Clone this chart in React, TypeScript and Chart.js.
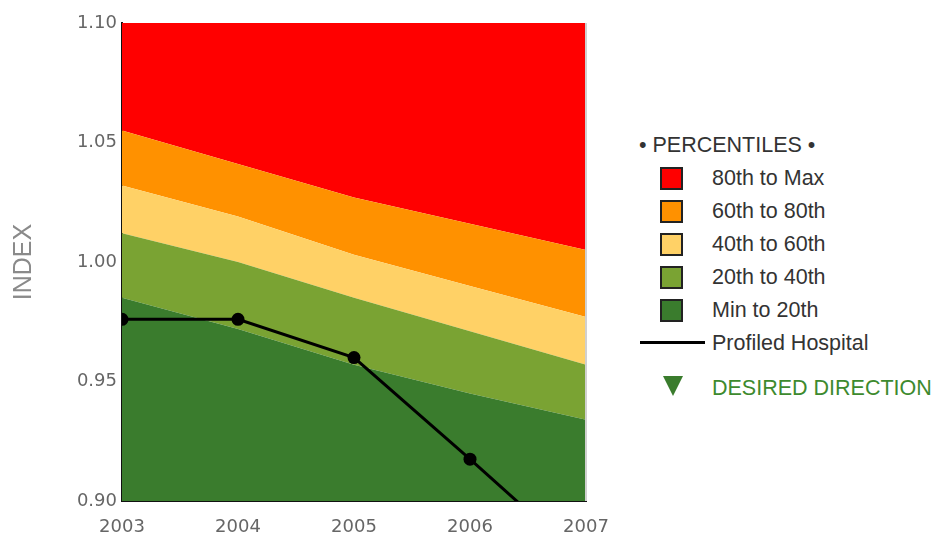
import React, { useEffect, useRef } from "react";
import { Chart, registerables } from "chart.js";

Chart.register(...registerables);

const years = ["2003", "2004", "2005", "2006", "2007"];
const p20 = [0.985, 0.972, 0.957, 0.945, 0.934];
const p40 = [1.012, 1.0, 0.985, 0.971, 0.957];
const p60 = [1.032, 1.019, 1.003, 0.99, 0.977];
const p80 = [1.055, 1.041, 1.027, 1.016, 1.005];
const pMax = [1.1, 1.1, 1.1, 1.1, 1.1];
const hospital = [0.976, 0.976, 0.96, 0.9175, 0.874];

const yMin = 0.9;
const yMax = 1.1;
const yStep = 0.05;

const COLORS = {
  red: "#ff0000",
  orange: "#ff9100",
  yellow: "#ffd166",
  lightGreen: "#7aa333",
  darkGreen: "#3a7c2d",
};

const legendItems = [
  { label: "80th to Max", color: COLORS.red },
  { label: "60th to 80th", color: COLORS.orange },
  { label: "40th to 60th", color: COLORS.yellow },
  { label: "20th to 40th", color: COLORS.lightGreen },
  { label: "Min to 20th", color: COLORS.darkGreen },
];

const FONT = "'Liberation Sans', Arial, Helvetica, sans-serif";
const TICK_FONT = "'DejaVu Sans', Verdana, sans-serif";

const rightEdgePlugin = {
  id: "rightEdge",
  afterDraw(chart: any) {
    const { ctx, chartArea } = chart;
    ctx.save();
    ctx.strokeStyle = "#d0d0d0";
    ctx.lineWidth = 2;
    ctx.beginPath();
    ctx.moveTo(chartArea.right, chartArea.top);
    ctx.lineTo(chartArea.right, chartArea.bottom);
    ctx.stroke();
    ctx.restore();
  },
};

function area(data: number[], color: string, fill: any) {
  return {
    data,
    backgroundColor: color,
    borderColor: "rgba(0,0,0,0)",
    borderWidth: 0,
    pointRadius: 0,
    pointHoverRadius: 0,
    fill,
    tension: 0,
  };
}

export default function App() {
  const ref = useRef<HTMLCanvasElement | null>(null);

  useEffect(() => {
    if (!ref.current) return;
    const chart = new Chart(ref.current, {
      type: "line",
      data: {
        labels: years,
        datasets: [
          {
            label: "Profiled Hospital",
            data: hospital,
            borderColor: "#000",
            backgroundColor: "#000",
            borderWidth: 3,
            pointRadius: 6.5,
            pointBackgroundColor: "#000",
            pointBorderColor: "#000",
            pointBorderWidth: 0,
            fill: false,
            clip: 0,
            tension: 0,
          } as any,
          area(p20, COLORS.darkGreen, "start"),
          area(p40, COLORS.lightGreen, 1),
          area(p60, COLORS.yellow, 2),
          area(p80, COLORS.orange, 3),
          area(pMax, COLORS.red, 4),
        ],
      },
      options: {
        animation: false,
        responsive: true,
        maintainAspectRatio: false,
        layout: { padding: { top: 23, right: 34, left: 0, bottom: 0 } },
        plugins: {
          legend: { display: false },
          tooltip: { enabled: false },
        },
        scales: {
          x: {
            type: "category",
            offset: false,
            grid: { display: false },
            border: { display: true, color: "#111", width: 2 },
            ticks: {
              autoSkip: false,
              maxRotation: 0,
              color: "#666",
              font: { family: TICK_FONT, size: 18 },
              padding: 8,
            },
            afterFit: (s: any) => {
              s.height = 33;
            },
          },
          y: {
            min: yMin,
            max: yMax,
            grid: { display: false },
            border: { display: true, color: "#111", width: 2 },
            ticks: {
              stepSize: yStep,
              color: "#666",
              font: { family: TICK_FONT, size: 18 },
              padding: -3,
              callback: (v: any) => Number(v).toFixed(2),
            },
            title: {
              display: true,
              text: "INDEX",
              color: "#8a8a8a",
              font: { family: FONT, size: 25 },
              padding: 9,
            },
            afterFit: (s: any) => {
              s.width = 122;
            },
          },
        },
      },
      plugins: [rightEdgePlugin],
    });
    return () => chart.destroy();
  }, []);

  const textStyle = (top: number, left: number, color = "#333"): React.CSSProperties => ({
    position: "absolute",
    left,
    top: top - 13,
    height: 26,
    lineHeight: "26px",
    fontSize: 21.5,
    fontFamily: FONT,
    color,
    whiteSpace: "nowrap",
  });

  const rowY = [178, 211, 244, 277, 310];

  return (
    <div
      style={{
        position: "absolute",
        left: 0,
        top: 0,
        width: 934,
        height: 534,
        background: "#fff",
        overflow: "hidden",
      }}
    >
      <div style={{ position: "absolute", left: 0, top: 0, width: 620, height: 534 }}>
        <canvas ref={ref} />
      </div>
      <div style={textStyle(145, 639)}>• PERCENTILES •</div>
      {legendItems.map((it, i) => (
        <React.Fragment key={it.label}>
          <div
            style={{
              position: "absolute",
              left: 660,
              top: rowY[i] - 11.5,
              width: 19,
              height: 19,
              background: it.color,
              border: "2px solid #222",
            }}
          />
          <div style={textStyle(rowY[i], 712)}>{it.label}</div>
        </React.Fragment>
      ))}
      <div
        style={{
          position: "absolute",
          left: 640,
          top: 341,
          width: 65,
          height: 3,
          background: "#000",
        }}
      />
      <div style={textStyle(343, 712)}>Profiled Hospital</div>
      <div
        style={{
          position: "absolute",
          left: 663,
          top: 376,
          width: 0,
          height: 0,
          borderLeft: "10px solid transparent",
          borderRight: "10px solid transparent",
          borderTop: "20px solid " + COLORS.darkGreen,
        }}
      />
      <div style={textStyle(388, 712, "#3d8a2e")}>DESIRED DIRECTION</div>
    </div>
  );
}
